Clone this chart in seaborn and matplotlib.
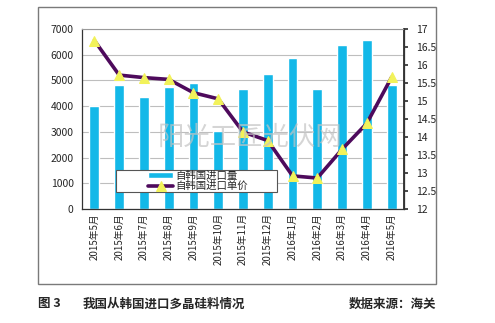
import numpy as np
import pandas as pd
import matplotlib
matplotlib.use("Agg")
import matplotlib.pyplot as plt
from matplotlib.patches import Rectangle
from matplotlib.ticker import MultipleLocator, FixedLocator, FuncFormatter
import seaborn as sns

months = ["2015年5月", "2015年6月", "2015年7月", "2015年8月", "2015年9月",
          "2015年10月", "2015年11月", "2015年12月", "2016年1月", "2016年2月",
          "2016年3月", "2016年4月", "2016年5月"]
volume = [4005, 4810, 4370, 4745, 4910, 3045, 4655, 5250, 5870, 4680, 6390, 6570, 4835]
price = [16.68, 15.72, 15.65, 15.60, 15.23, 15.06, 14.14, 13.90, 12.92, 12.86, 13.66, 14.38, 15.66]

vol_label = "自韩国进口量"
price_label = "自韩国进口单价"
watermark = "阳光工匠光伏网"
caption_no = "图 3"
caption = "我国从韩国进口多晶硅料情况"
source = "数据来源：海关"

sns.set_theme(style="white")
plt.rcParams["font.family"] = ["Noto Sans CJK SC", "DejaVu Sans"]

df = pd.DataFrame({"month": months, "volume": volume, "price": price})

W, H = 495, 323
fig = plt.figure(figsize=(W / 100, H / 100), dpi=100)
fig.patch.set_facecolor("white")

def fx(px):
    return px / W

def fy(py):
    return 1 - py / H

ax = fig.add_axes([fx(82), fy(209), fx(404) - fx(82), fy(29) - fy(209)])

bar_color = "#13B8E8"
line_color = "#4E0A5C"
marker_color = "#F2F25A"

sns.barplot(data=df, x="month", y="volume", ax=ax, color=bar_color,
            width=0.4, saturation=1, label=vol_label, zorder=2)
ax.set_ylim(0, 7000)
ax.set_xlim(-0.5, len(months) - 0.5)
ax.yaxis.set_major_locator(MultipleLocator(1000))
ax.grid(axis="y", color="#BEBEBE", lw=0.8, zorder=0)
ax.set_axisbelow(True)
ax.set_xlabel("")
ax.set_ylabel("")
ax.tick_params(axis="x", labelrotation=90, labelsize=7, length=0, pad=3)
ax.tick_params(axis="y", labelsize=7.5, length=0, pad=6)
ax.xaxis.set_minor_locator(FixedLocator(np.arange(-0.5, len(months), 1.0)))
ax.tick_params(axis="x", which="minor", length=3, direction="in", color="#555555")
for s in ["left", "bottom"]:
    ax.spines[s].set_color("#333333")
    ax.spines[s].set_linewidth(0.9)
ax.spines["top"].set_color("#9A9A9A")
ax.spines["top"].set_linewidth(0.8)

ax2 = ax.twinx()
sns.lineplot(data=df, x="month", y="price", ax=ax2, color=line_color, lw=2.6,
             marker="^", markersize=6.5, markerfacecolor=marker_color,
             markeredgecolor=marker_color, label=price_label, sort=False, zorder=3)
ax2.set_ylim(12, 17)
ax2.set_xlim(-0.5, len(months) - 0.5)
ax2.yaxis.set_major_locator(FixedLocator(np.arange(12, 17.01, 0.5)))
ax2.yaxis.set_major_formatter(FuncFormatter(lambda v, _: f"{v:g}"))
ax2.set_ylabel("")
ax2.tick_params(axis="y", labelsize=7.5, length=3, direction="out", color="#333333", pad=6)
ax2.spines["right"].set_color("#333333")
ax2.spines["right"].set_linewidth(0.9)
for s in ["left", "bottom", "top"]:
    ax2.spines[s].set_visible(False)
ax2.grid(False)
if ax2.get_legend() is not None:
    ax2.get_legend().remove()
if ax.get_legend() is not None:
    ax.get_legend().remove()

# watermark across the plot
fig.text(fx(250), fy(137), watermark, fontsize=19, color="#C4C4C4", alpha=0.7,
         ha="center", va="center", zorder=10)

# legend: white box with the two entries set in from its left edge
fig.patches.append(Rectangle((fx(116), fy(192)), fx(277) - fx(116), fy(170) - fy(192),
                             transform=fig.transFigure, facecolor="white",
                             edgecolor="#555555", lw=0.8, zorder=19))
h1, l1 = ax.get_legend_handles_labels()
h2, l2 = ax2.get_legend_handles_labels()
leg = fig.legend(h1 + h2, [vol_label, price_label], loc="center left",
                 bbox_to_anchor=(fx(148), fy(181)),
                 fontsize=7.5, frameon=False, borderpad=0.0, labelspacing=0.0,
                 handlelength=2.4, handleheight=0.5, handletextpad=0.2,
                 borderaxespad=0)
leg.set_zorder(20)

# outer frame
fig.patches.append(Rectangle((fx(38), fy(284)), fx(436) - fx(38), fy(7) - fy(284),
                             transform=fig.transFigure, fill=False,
                             edgecolor="#7A7A7A", lw=1.0))

fig.text(fx(38), fy(304), caption_no, fontsize=9, fontweight="bold", va="center", ha="left")
fig.text(fx(83), fy(304), caption, fontsize=9, fontweight="bold", va="center", ha="left")
fig.text(fx(436), fy(304), source, fontsize=9, fontweight="bold", va="center", ha="right")

fig.savefig("out.png", dpi=100)
